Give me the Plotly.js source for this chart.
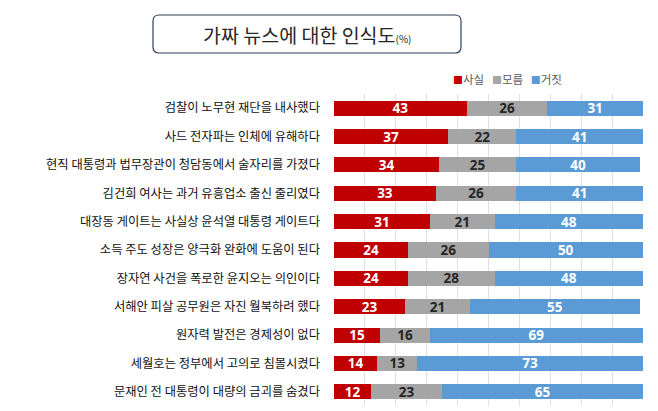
<!DOCTYPE html>
<html>
<head>
<meta charset="utf-8">
<script src="https://cdn.plot.ly/plotly-3.0.1.min.js"></script>
<style>html,body{margin:0;padding:0;background:#fff;}#chart{width:658px;height:411px;}</style>
</head>
<body>
<div id="chart"></div>
<script>
var categories = [
  "검찰이 노무현 재단을 내사했다",
  "사드 전자파는 인체에 유해하다",
  "현직 대통령과 법무장관이 청담동에서 술자리를 가졌다",
  "김건희 여사는 과거 유흥업소 출신 줄리였다",
  "대장동 게이트는 사실상 윤석열 대통령 게이트다",
  "소득 주도 성장은 양극화 완화에 도움이 된다",
  "장자연 사건을 폭로한 윤지오는 의인이다",
  "서해안 피살 공무원은 자진 월북하려 했다",
  "원자력 발전은 경제성이 없다",
  "세월호는 정부에서 고의로 침몰시켰다",
  "문재인 전 대통령이 대량의 금괴를 숨겼다"
];
var fact    = [43, 37, 34, 33, 31, 24, 24, 23, 15, 14, 12];
var unknown = [26, 22, 25, 26, 21, 26, 28, 21, 16, 13, 23];
var fake    = [31, 41, 40, 41, 48, 50, 48, 55, 69, 73, 65];
var seriesNames = ["사실", "모름", "거짓"];
var seriesColors = ["#C00000", "#A5A5A5", "#5B9BD5"];
var textColors = ["#FFFFFF", "#262626", "#FFFFFF"];
var chartTitle = "가짜 뉴스에 대한 인식도";
var titleUnit = "(%)";

var W = 658, H = 411;
var L = 334, R = 15, T = 94, B = 5;
var pw = W - L - R, ph = H - T - B;
function px(x){ return (x - L) / pw; }
function py(y){ return (H - B - y) / ph; }

var values = [fact, unknown, fake];
var traces = values.map(function(v, i){
  return {
    type: 'bar', orientation: 'h',
    y: categories, x: v, name: seriesNames[i],
    marker: {color: seriesColors[i], line: {width: 0}},
    text: v.map(String), textposition: 'inside', insidetextanchor: 'middle',
    textangle: 0, constraintext: 'none', cliponaxis: false,
    textfont: {family: 'Noto Sans, sans-serif', size: 13.5, color: textColors[i], weight: 'bold'},
    hoverinfo: 'none', showlegend: false
  };
});

// rounded title box path in paper coords
var bx0 = 153, bx1 = 461, by0 = 15, by1 = 53, r = 6;
function P(x, y){ return px(x) + ',' + py(y); }
var boxPath = 'M' + P(bx0 + r, by0) + ' L' + P(bx1 - r, by0) + ' Q' + P(bx1, by0) + ' ' + P(bx1, by0 + r) +
  ' L' + P(bx1, by1 - r) + ' Q' + P(bx1, by1) + ' ' + P(bx1 - r, by1) +
  ' L' + P(bx0 + r, by1) + ' Q' + P(bx0, by1) + ' ' + P(bx0, by1 - r) +
  ' L' + P(bx0, by0 + r) + ' Q' + P(bx0, by0) + ' ' + P(bx0 + r, by0) + ' Z';

var legendText = seriesNames.map(function(n, i){
  return "<span style='color:" + seriesColors[i] + ";font-size:10px'>■</span>" + n;
}).join("   ");

var layout = {
  width: W, height: H,
  margin: {l: L, r: R, t: T, b: B, pad: 0},
  barmode: 'stack', bargap: 0.47,
  paper_bgcolor: '#FFFFFF', plot_bgcolor: '#FFFFFF',
  font: {family: 'Noto Sans CJK KR, sans-serif', color: '#262626'},
  xaxis: {range: [0, 100], dtick: 10, showgrid: true, gridcolor: '#E0E0E0', gridwidth: 1,
          showticklabels: false, zeroline: false, showline: false, fixedrange: true},
  yaxis: {autorange: 'reversed', showgrid: false, zeroline: false, showline: false,
          ticks: '', ticklabelstandoff: 13,
          tickfont: {family: 'Noto Sans CJK KR, sans-serif', size: 12.3, color: '#111111'}},
  shapes: [{type: 'path', xref: 'paper', yref: 'paper', path: boxPath,
            line: {color: '#2F3F55', width: 1.2}, fillcolor: 'rgba(0,0,0,0)'}],
  annotations: [
    {xref: 'paper', yref: 'paper', x: px(307), y: py(34), xanchor: 'center', yanchor: 'middle',
     showarrow: false,
     text: chartTitle + "<span style='font-size:10px'>" + titleUnit + "</span>",
     font: {family: 'Noto Sans CJK KR, sans-serif', size: 19.5, color: '#262626'}},
    {xref: 'paper', yref: 'paper', x: px(451), y: py(79), xanchor: 'left', yanchor: 'middle',
     showarrow: false, text: legendText,
     font: {family: 'Noto Sans CJK KR, sans-serif', size: 11.5, color: '#595959'}}
  ]
};

Plotly.newPlot('chart', traces, layout, {displayModeBar: false, staticPlot: true});
</script>
</body>
</html>
